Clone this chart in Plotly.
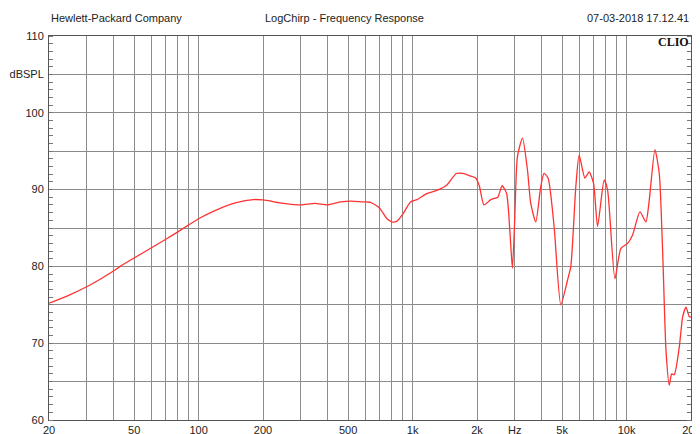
import plotly.graph_objects as go

freq_hz = [20, 25, 30, 35, 40, 43, 50, 60, 70, 80, 100, 120, 150, 180, 200, 250, 300, 350, 400,
           460, 520, 580, 636, 700, 760, 800, 846, 900, 979, 1050, 1170, 1300, 1447, 1600, 1720,
           1850, 1972, 2050, 2156, 2320, 2500, 2620, 2750, 2850, 2928, 3000, 3090, 3262, 3442,
           3566, 3764, 3972, 4116, 4297, 4584, 4928, 5296, 5488, 5793, 6003, 6384, 6683, 7010,
           7318, 7856, 8150, 8820, 9406, 10108, 10668, 11542, 12312, 12760, 13570, 14214, 14744,
           15278, 15832, 16246, 16708, 17632, 18290, 18950, 19640, 20000]
spl_db = [75.2, 76.3, 77.35, 78.4, 79.4, 80.0, 81.1, 82.4, 83.5, 84.5, 86.2, 87.3, 88.3, 88.7, 88.65,
          88.2, 88.0, 88.2, 88.0, 88.4, 88.5, 88.4, 88.35, 87.6, 86.2, 85.8, 85.9, 86.8, 88.4, 88.7,
          89.5, 89.9, 90.6, 92.1, 92.1, 91.8, 91.5, 90.5, 88.0, 88.7, 89.0, 90.5, 89.5, 84.5, 79.75,
          86.0, 94.3, 96.7, 92.55, 88.2, 85.8, 90.4, 92.1, 91.5, 85.2, 75.0, 78.2, 80.0, 90.4, 94.5,
          91.5, 92.3, 90.8, 85.2, 91.25, 89.95, 78.4, 82.35, 83.0, 84.1, 87.1, 85.8, 88.6, 95.2,
          92.1, 81.9, 69.1, 64.55, 66.0, 65.9, 69.5, 73.45, 74.7, 73.45, 73.4]

x_grid = [20, 30, 40, 50, 60, 70, 80, 90, 100, 200, 300, 400, 500, 600, 700, 800, 900, 1000,
          2000, 3000, 4000, 5000, 6000, 7000, 8000, 9000, 10000, 20000]
x_labels = {20: "20", 50: "50", 100: "100", 200: "200", 500: "500", 1000: "1k", 2000: "2k",
            3000: "Hz", 5000: "5k", 10000: "10k", 20000: "20k"}
y_grid = [60, 65, 70, 75, 80, 85, 90, 95, 100, 105, 110]
y_labels = {60: "60", 70: "70", 80: "80", 90: "90", 100: "100", 105: "dBSPL", 110: "110"}

font_family = "Liberation Sans, Arial, sans-serif"

fig = go.Figure()
fig.add_trace(go.Scatter(
    x=freq_hz, y=spl_db, mode="lines",
    line=dict(color="rgb(255,50,50)", width=1.3, shape="spline", smoothing=0.6),
    showlegend=False, hoverinfo="x+y"))

# the page places the figure 8px in from the top-left corner (default body margin)
fig.update_layout(
    width=692, height=426,
    margin=dict(l=41, r=9, t=28, b=14, autoexpand=False),
    paper_bgcolor="white", plot_bgcolor="white",
    font=dict(family=font_family, size=11, color="#222"),
    xaxis=dict(
        type="log", range=[1.30103, 4.30103], automargin=False,
        tickmode="array", tickvals=x_grid,
        ticktext=[x_labels.get(v, "") for v in x_grid],
        showgrid=True, gridcolor="#8c8c8c", gridwidth=1,
        showline=True, linecolor="#555", linewidth=1, mirror=True,
        ticks="", zeroline=False, ticklabelstandoff=0,
        ticklabeloverflow="allow",
        tickfont=dict(size=11, color="#222"),
    ),
    yaxis=dict(
        range=[60, 110], automargin=False,
        tickmode="array", tickvals=y_grid,
        ticktext=[y_labels.get(v, "") for v in y_grid],
        showgrid=True, gridcolor="#8a8a8a", gridwidth=1,
        showline=True, linecolor="#555", linewidth=1, mirror="ticks",
        ticks="", zeroline=False, ticklabelstandoff=2,
        minor=dict(dtick=1, ticks="inside", ticklen=4, tickcolor="#777", showgrid=False),
        tickfont=dict(size=11, color="#222"),
    ),
)

fig.add_annotation(text="Hewlett-Packard Company", xref="paper", yref="paper",
                   x=0.0, y=1.047, xanchor="left", yanchor="middle", showarrow=False,
                   font=dict(size=11, color="#222"))
fig.add_annotation(text="LogChirp - Frequency Response", xref="paper", yref="paper",
                   x=0.46, y=1.047, xanchor="center", yanchor="middle", showarrow=False,
                   font=dict(size=11, color="#222"))
fig.add_annotation(text="07-03-2018 17.12.41", xref="paper", yref="paper",
                   x=1.0, y=1.047, xanchor="right", yanchor="middle", showarrow=False,
                   font=dict(size=11, color="#222"))
fig.add_annotation(text="<b>CLIO</b>", xref="paper", yref="paper",
                   x=1.0, y=0.985, xanchor="right", yanchor="middle", showarrow=False,
                   font=dict(size=12, color="#111", family="Liberation Serif, DejaVu Serif, serif"))

fig.write_html("out.html")
